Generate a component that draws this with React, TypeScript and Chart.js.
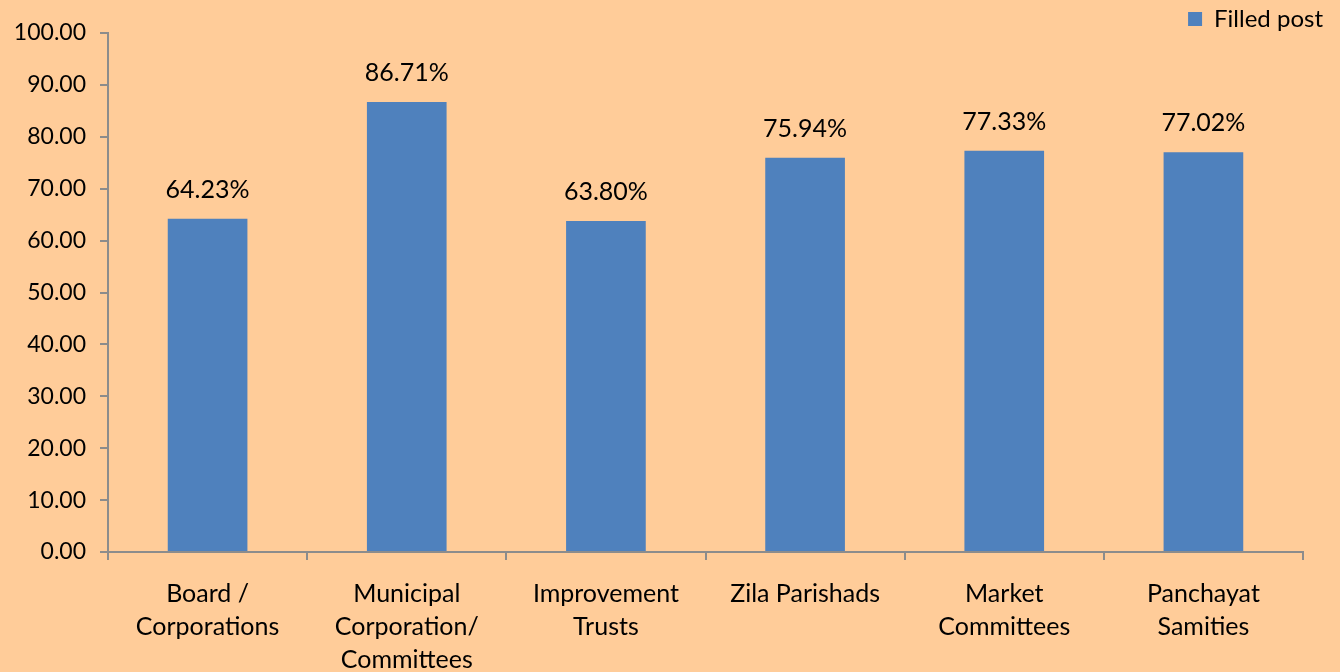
import React, { useEffect, useRef } from "react";
import { Chart, registerables } from "chart.js";

Chart.register(...registerables);

const categories: string[][] = [
  ["Board /", "Corporations"],
  ["Municipal", "Corporation/", "Committees"],
  ["Improvement", "Trusts"],
  ["Zila Parishads"],
  ["Market", "Committees"],
  ["Panchayat", "Samities"],
];
const filledPost: number[] = [64.23, 86.71, 63.8, 75.94, 77.33, 77.02];
const seriesName = "Filled post";
const yMin = 0;
const yMax = 100;
const yStep = 10;

const FONT = "Lato, 'Open Sans', sans-serif";
const BG = "#FFCC99";
const BAR = "#4F81BD";
const AXIS = "#8C8C8C";

const bgPlugin = {
  id: "bgFill",
  beforeDraw(chart: any) {
    const { ctx, width, height } = chart;
    ctx.save();
    ctx.fillStyle = BG;
    ctx.fillRect(0, 0, width, height);
    ctx.restore();
  },
};

const labelPlugin = {
  id: "barLabels",
  afterDatasetsDraw(chart: any) {
    const { ctx } = chart;
    const meta = chart.getDatasetMeta(0);
    const data = chart.data.datasets[0].data as number[];
    ctx.save();
    ctx.fillStyle = "#000";
    ctx.font = `25px ${FONT}`;
    ctx.textAlign = "center";
    ctx.textBaseline = "middle";
    meta.data.forEach((bar: any, i: number) => {
      ctx.fillText(data[i].toFixed(2) + "%", bar.x, bar.y - 29);
    });
    ctx.restore();
  },
};

export default function App() {
  const ref = useRef<HTMLCanvasElement | null>(null);
  useEffect(() => {
    if (!ref.current) return;
    const chart = new Chart(ref.current, {
      type: "bar",
      data: {
        labels: categories,
        datasets: [
          {
            label: seriesName,
            data: filledPost,
            backgroundColor: BAR,
            borderWidth: 0,
            categoryPercentage: 0.8,
            barPercentage: 0.5,
          },
        ],
      },
      options: {
        responsive: false,
        animation: false,
        layout: { padding: { left: 0, right: 17, top: 7, bottom: 0 } },
        plugins: {
          tooltip: { enabled: false },
          legend: {
            position: "top",
            align: "end",
            maxHeight: 26,
            labels: {
              boxWidth: 14,
              boxHeight: 14,
              padding: 0,
              color: "#000",
              font: { family: FONT, size: 24 },
            },
          },
        },
        scales: {
          x: {
            grid: {
              display: true,
              drawOnChartArea: false,
              drawTicks: true,
              tickLength: 8,
              color: AXIS,
              lineWidth: 2,
              offset: true,
            },
            border: { display: true, color: AXIS, width: 2 },
            ticks: {
              color: "#000",
              font: { family: FONT, size: 25, lineHeight: 1.32 },
              padding: 17,
              maxRotation: 0,
              autoSkip: false,
            },
            afterFit(scale: any) {
              scale.height = 120;
            },
          },
          y: {
            min: yMin,
            max: yMax,
            grid: {
              display: true,
              drawOnChartArea: false,
              drawTicks: true,
              tickLength: 8,
              color: AXIS,
              lineWidth: 2,
            },
            border: { display: true, color: AXIS, width: 2 },
            ticks: {
              stepSize: yStep,
              color: "#000",
              font: { family: FONT, size: 23 },
              padding: 14,
              callback: (v: any) => Number(v).toFixed(2),
            },
            afterFit(scale: any) {
              scale.width = 108;
            },
          },
          spacer: {
            type: "linear",
            position: "right",
            display: true,
            grid: { display: false, drawTicks: false },
            border: { display: false },
            ticks: { display: false },
            afterFit(scale: any) {
              scale.width = 20;
            },
          },
        },
      },
      plugins: [bgPlugin, labelPlugin],
    });
    return () => chart.destroy();
  }, []);
  return (
    <div
      style={{
        position: "fixed",
        left: 0,
        top: 0,
        width: 1340,
        height: 672,
        background: BG,
      }}
    >
      <canvas ref={ref} width={1340} height={672} />
    </div>
  );
}
